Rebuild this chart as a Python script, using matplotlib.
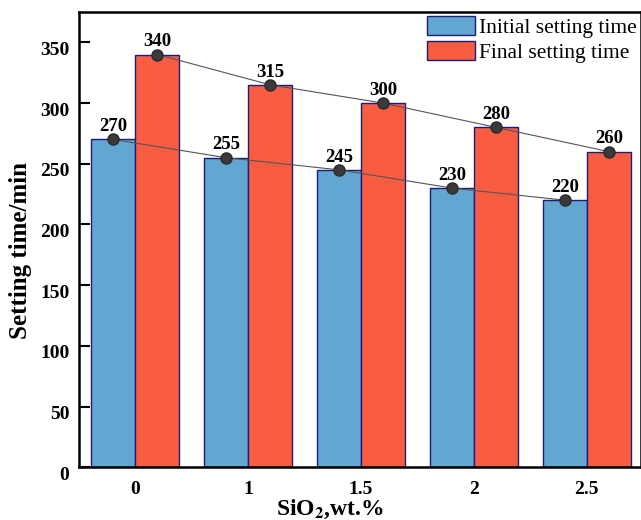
import matplotlib
matplotlib.use("Agg")
import matplotlib.pyplot as plt
from matplotlib.transforms import ScaledTranslation
import numpy as np

categories = ["0", "1", "1.5", "2", "2.5"]
initial = [270, 255, 245, 230, 220]
final = [340, 315, 300, 280, 260]

plt.rcParams["font.family"] = ["Liberation Serif", "DejaVu Serif"]
plt.rcParams["font.weight"] = "bold"
plt.rcParams["mathtext.fontset"] = "stix"

fig = plt.figure(figsize=(6.41, 5.2), dpi=100)
ax = fig.add_axes([0.1232, 0.1013, 0.8768, 0.8756])

x = np.arange(len(categories))
w = 0.39
edge = "#1c1c7a"
ax.bar(x - w / 2, initial, w, color="#62a6d2", edgecolor=edge, lw=1, label="Initial setting time", zorder=2)
ax.bar(x + w / 2, final, w, color="#f85c41", edgecolor=edge, lw=1, label="Final setting time", zorder=2)

for xs, vals in [(x - w / 2, initial), (x + w / 2, final)]:
    ax.plot(xs, vals, color="#555555", lw=0.8, marker="o", ms=8,
            mfc="#3a3a3a", mec="#2a2a2a", zorder=3)
    for xi, v in zip(xs, vals):
        ax.text(xi, v + 3.5, str(v), ha="center", va="bottom", fontsize=13.5,
                fontweight="bold", zorder=4)

ax.set_xlim(-0.5, 4.48)
ax.set_ylim(0, 375)
ax.set_yticks(range(0, 351, 50))
ax.set_xticks(x)
ax.set_xticklabels(categories)
ax.tick_params(direction="in", length=8, width=1.5, labelsize=14, pad=7)
ax.tick_params(axis="x", pad=10)
for lab in ax.get_xticklabels() + ax.get_yticklabels():
    lab.set_fontweight("bold")
# y tick labels sit a little below their ticks in the original
off = ScaledTranslation(0, -6 / 100, fig.dpi_scale_trans)
for lab in ax.get_yticklabels():
    lab.set_transform(lab.get_transform() + off)
for s in ax.spines.values():
    s.set_linewidth(1.8)

ax.set_ylabel("Setting time/min", fontsize=18, fontweight="bold")
ax.yaxis.set_label_coords(-0.084, 0.477)
ax.set_xlabel(r"SiO$_{\mathbf{2}}$,wt.%", fontsize=17, fontweight="bold")
ax.xaxis.set_label_coords(0.447, -0.068)

ax.legend(loc="upper right", bbox_to_anchor=(1.0, 1.0), frameon=False,
          prop={"size": 15.5, "weight": "normal"}, handlelength=2.2, handleheight=0.95,
          handletextpad=0.2, labelspacing=0.15, borderaxespad=0.1, borderpad=0.1)

fig.savefig("out.png", dpi=100)
